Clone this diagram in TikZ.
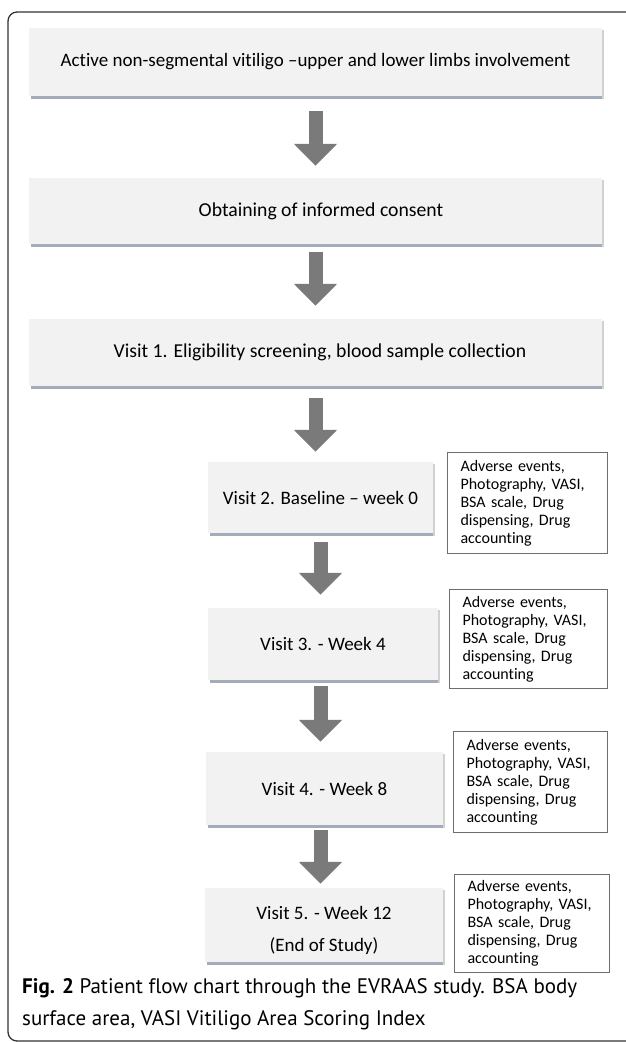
\documentclass[tikz,border=0pt]{standalone}
\usepackage{fontspec}
\setmainfont{Carlito}[RawFeature={-liga;-clig;-calt;-dlig}]
\newfontfamily\capfont{PT Sans}[RawFeature={-liga;-clig;-calt;-dlig}]
\usetikzlibrary{arrows.meta,calc}
\definecolor{boxfill}{HTML}{F2F2F2}
\definecolor{boxshadow}{HTML}{A3ACBA}
\definecolor{arrowgray}{HTML}{7A7A7A}
\definecolor{framegray}{HTML}{333333}
\definecolor{sidegray}{HTML}{6E6E6E}
\tikzset{
  flowbox/.style={fill=boxfill, draw=none, inner sep=0pt, align=center,
    font=\fontsize{19}{23}\selectfont},
  bigtext/.style={font=\fontsize{19.7}{23}\selectfont},
  sidebox/.style={draw=sidegray, line width=1pt, fill=white, inner xsep=13pt, inner ysep=0pt,
    align=left, anchor=north west, font=\fontsize{16}{18}\selectfont},
  bigarrow/.style={draw=arrowgray, line width=14pt,
    -{Triangle[width=42pt,length=22pt,fill=arrowgray]}},
}
\newcommand{\shadowbox}[5]{% name, cx, cy, w, h
  \fill[boxshadow] ({#2-#4/2+2},{#3-#5/2+3}) rectangle ({#2+#4/2+2},{#3+#5/2+3});
  \fill[black!18] ({#2+#4/2},{#3-#5/2+2}) rectangle ({#2+#4/2+2},{#3+#5/2+3});
}
\begin{document}
\begin{tikzpicture}[x=1pt,y=-1pt]
\useasboundingbox (0,0) rectangle (625,1042);
% outer frame
\draw[framegray, line width=1.3pt, rounded corners=9pt] (8,12) rectangle (660,1041);

% main boxes
\shadowbox{b1}{315.5}{62}{573}{68}
\node[flowbox, minimum width=573pt, minimum height=68pt] (b1) at (315.5,62)
  {Active non-segmental vitiligo \textendash upper and lower limbs involvement};
\shadowbox{b2}{315.5}{211}{573}{66}
\node[flowbox, bigtext, minimum width=573pt, minimum height=66pt] (b2) at (315.5,211)
  {\hspace*{11pt}Obtaining of informed consent};
\shadowbox{b3}{315.5}{352.5}{573}{67}
\node[flowbox, bigtext, minimum width=573pt, minimum height=67pt] (b3) at (315.5,352.5)
  {\hspace*{9pt}Visit 1. Eligibility screening, blood sample collection};
\shadowbox{b4}{320.5}{497.5}{225}{71}
\node[flowbox, minimum width=225pt, minimum height=71pt] (b4) at (320.5,497.5)
  {Visit 2. Baseline \textendash\ week 0};
\shadowbox{b5}{323}{644}{230}{72}
\node[flowbox, minimum width=230pt, minimum height=72pt] (b5) at (323,644)
  {Visit 3. - Week 4};
\shadowbox{b6}{324.5}{788.5}{237}{73}
\node[flowbox, minimum width=237pt, minimum height=73pt] (b6) at (324.5,788.5)
  {Visit 4. - Week 8};
\shadowbox{b7}{324}{925}{238}{74}
\node[flowbox, minimum width=238pt, minimum height=74pt] (b7) at (324,925) {};
\node[inner sep=0pt, align=center, font=\fontsize{19}{32}\selectfont] (b7t) at ([yshift=-5pt]b7.center)
  {Visit 5. - Week 12\\(End of Study)};

% side boxes
\node[sidebox, text width=134pt, minimum height=101pt] (s1) at (447,452)
  {Adverse events,\\Photography, VASI,\\BSA scale, Drug\\dispensing, Drug\\accounting};
\node[sidebox, text width=132pt, minimum height=99pt] (s2) at (449,589)
  {Adverse events,\\Photography, VASI,\\BSA scale, Drug\\dispensing, Drug\\accounting};
\node[sidebox, text width=128pt, minimum height=101pt] (s3) at (453,731)
  {Adverse events,\\Photography, VASI,\\BSA scale, Drug\\dispensing, Drug\\accounting};
\node[sidebox, text width=129pt, minimum height=98pt] (s4) at (454,874)
  {Adverse events,\\Photography, VASI,\\BSA scale, Drug\\dispensing, Drug\\accounting};

% arrows
\draw[bigarrow] ([yshift=-15pt]b1.south) -- ([yshift=12pt]b1.south |- b2.north);
\draw[bigarrow] ([yshift=-8pt]b2.south) -- ([yshift=13pt]b2.south |- b3.north);
\draw[bigarrow] ([yshift=-12pt]b3.south) -- ([yshift=10pt]b3.south |- b4.north);
\draw[bigarrow] ([yshift=-9pt]b4.south) -- ([yshift=13pt]b4.south |- b5.north);
\draw[bigarrow] ([yshift=-6pt]b5.south -| b4.south) -- ([yshift=10pt]b4.south |- b6.north);
\draw[bigarrow] ([yshift=-5pt]b6.south -| b4.south) -- ([yshift=4pt]b4.south |- b7.north);

% caption
\node[anchor=north west, align=left, inner sep=0pt, font=\capfont\fontsize{21}{32}\selectfont] (cap) at (22,978)
  {\textbf{Fig. 2} Patient flow chart through the EVRAAS study. BSA body\\surface area, VASI Vitiligo Area Scoring Index};
\end{tikzpicture}
\end{document}
